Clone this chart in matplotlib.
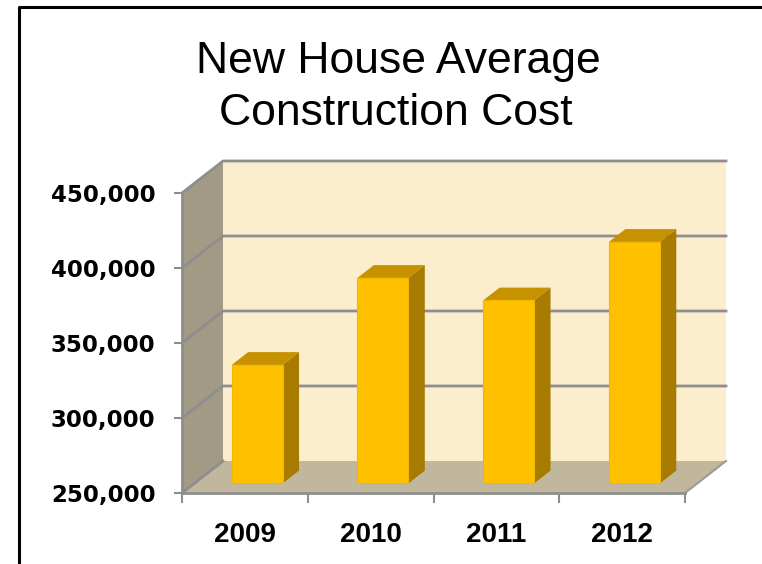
import numpy as np
import matplotlib
matplotlib.use("Agg")
import matplotlib.pyplot as plt
from matplotlib.patches import Polygon
from matplotlib.lines import Line2D

# ---- data ----
years = ["2009", "2010", "2011", "2012"]
costs = [329000, 387000, 372000, 411000]
y_ticks = [250000, 300000, 350000, 400000, 450000]
y_tick_labels = ["250,000", "300,000", "350,000", "400,000", "450,000"]
title_lines = ["New House Average", "Construction Cost"]

# ---- style ----
W, H = 762, 564
DPI = 100
DEPTH = np.array([41.0, 32.0])      # pixel offset of back wall
D_FRONT, D_BACK = 0.30, 0.70        # bar depth planes
BAR_W = 0.405
C_BACK = "#FCEECC"
C_LEFT = "#A29A84"
C_FLOOR = "#C0B79D"
C_GRID = "#8E8E8E"
C_FRONT = "#FFC000"
C_TOP = "#C69200"
C_SIDE = "#A67B00"

fig = plt.figure(figsize=(W / DPI, H / DPI), dpi=DPI)
ax = fig.add_axes([182 / W, 1 - 493 / H, 503 / W, 300 / H])
ax.set_xlim(0.5, 0.5 + len(years))
ax.set_ylim(y_ticks[0], y_ticks[-1])
ax.patch.set_visible(False)
for s in ["top", "right"]:
    ax.spines[s].set_visible(False)
for s in ["left", "bottom"]:
    ax.spines[s].set_color(C_GRID)
    ax.spines[s].set_linewidth(2)

inv = fig.transFigure.inverted()


def P(x, v, d):
    pix = ax.transData.transform((x, v)) + d * DEPTH
    return inv.transform(pix)


def poly(pts, color, z, ec="none", lw=0):
    p = Polygon(np.array(pts), closed=True, facecolor=color, edgecolor=ec, linewidth=lw,
                transform=fig.transFigure, zorder=z, clip_on=False)
    ax.add_patch(p)


def line(pts, z, color=C_GRID, lw=2):
    pts = np.array(pts)
    ln = Line2D(pts[:, 0], pts[:, 1], color=color, lw=lw,
                transform=fig.transFigure, zorder=z, clip_on=False)
    ax.add_line(ln)


x0, x1 = ax.get_xlim()
v0, v1 = y_ticks[0], y_ticks[-1]

# walls and floor
poly([P(x0, v0, 1), P(x1, v0, 1), P(x1, v1, 1), P(x0, v1, 1)], C_BACK, 0.1)
poly([P(x0, v0, 0), P(x0, v1, 0), P(x0, v1, 1), P(x0, v0, 1)], C_LEFT, 0.2)
poly([P(x0, v0, 0), P(x1, v0, 0), P(x1, v0, 1), P(x0, v0, 1)], C_FLOOR, 0.3)

# gridlines
for v in y_ticks:
    if v == v0:
        line([P(x0, v, 0), P(x0, v, 1)], 0.5)
        line([P(x1, v, 0), P(x1, v, 1)], 0.5, color="#9A9A9A", lw=1.5)
    else:
        line([P(x0, v, 0), P(x0, v, 1), P(x1, v, 1)], 0.5)

# bars
for i, v in enumerate(costs):
    c = i + 1
    bx0, bx1 = c - BAR_W / 2, c + BAR_W / 2
    poly([P(bx1, v0, D_FRONT), P(bx1, v0, D_BACK), P(bx1, v, D_BACK), P(bx1, v, D_FRONT)], C_SIDE, 3)
    poly([P(bx0, v, D_FRONT), P(bx1, v, D_FRONT), P(bx1, v, D_BACK), P(bx0, v, D_BACK)], C_TOP, 3)
    poly([P(bx0, v0, D_FRONT), P(bx1, v0, D_FRONT), P(bx1, v, D_FRONT), P(bx0, v, D_FRONT)], C_FRONT, 3.1,
         ec="#F2B800", lw=0.8)

# ticks
ax.set_yticks(y_ticks)
ax.set_yticklabels(y_tick_labels, fontfamily="DejaVu Sans", fontweight="bold", fontsize=16.5)
ax.tick_params(axis="y", which="major", length=6, width=1.5, color=C_GRID, pad=13)
ax.set_xticks(np.arange(0.5, len(years) + 1, 1.0))
ax.set_xticklabels([])
ax.tick_params(axis="x", which="major", length=7, width=1.5, color=C_GRID)
ax.set_xticks(np.arange(1, len(years) + 1), minor=True)
ax.set_xticklabels(years, minor=True, fontfamily="Liberation Sans", fontweight="bold", fontsize=20)
ax.tick_params(axis="x", which="minor", length=0, pad=21)

# title
fig.text(398 / W, 1 - 73 / H, title_lines[0], ha="center", va="baseline",
         fontfamily="Liberation Sans", fontsize=32)
fig.text(396 / W, 1 - 125 / H, title_lines[1], ha="center", va="baseline",
         fontfamily="Liberation Sans", fontsize=32)

# outer border (top and left)
fig.add_artist(Line2D([19 / W, 19 / W, 1.0], [0.0, 1 - 7 / H, 1 - 7 / H],
                      color="black", lw=2.2, transform=fig.transFigure))

fig.savefig("out.png", dpi=DPI)
